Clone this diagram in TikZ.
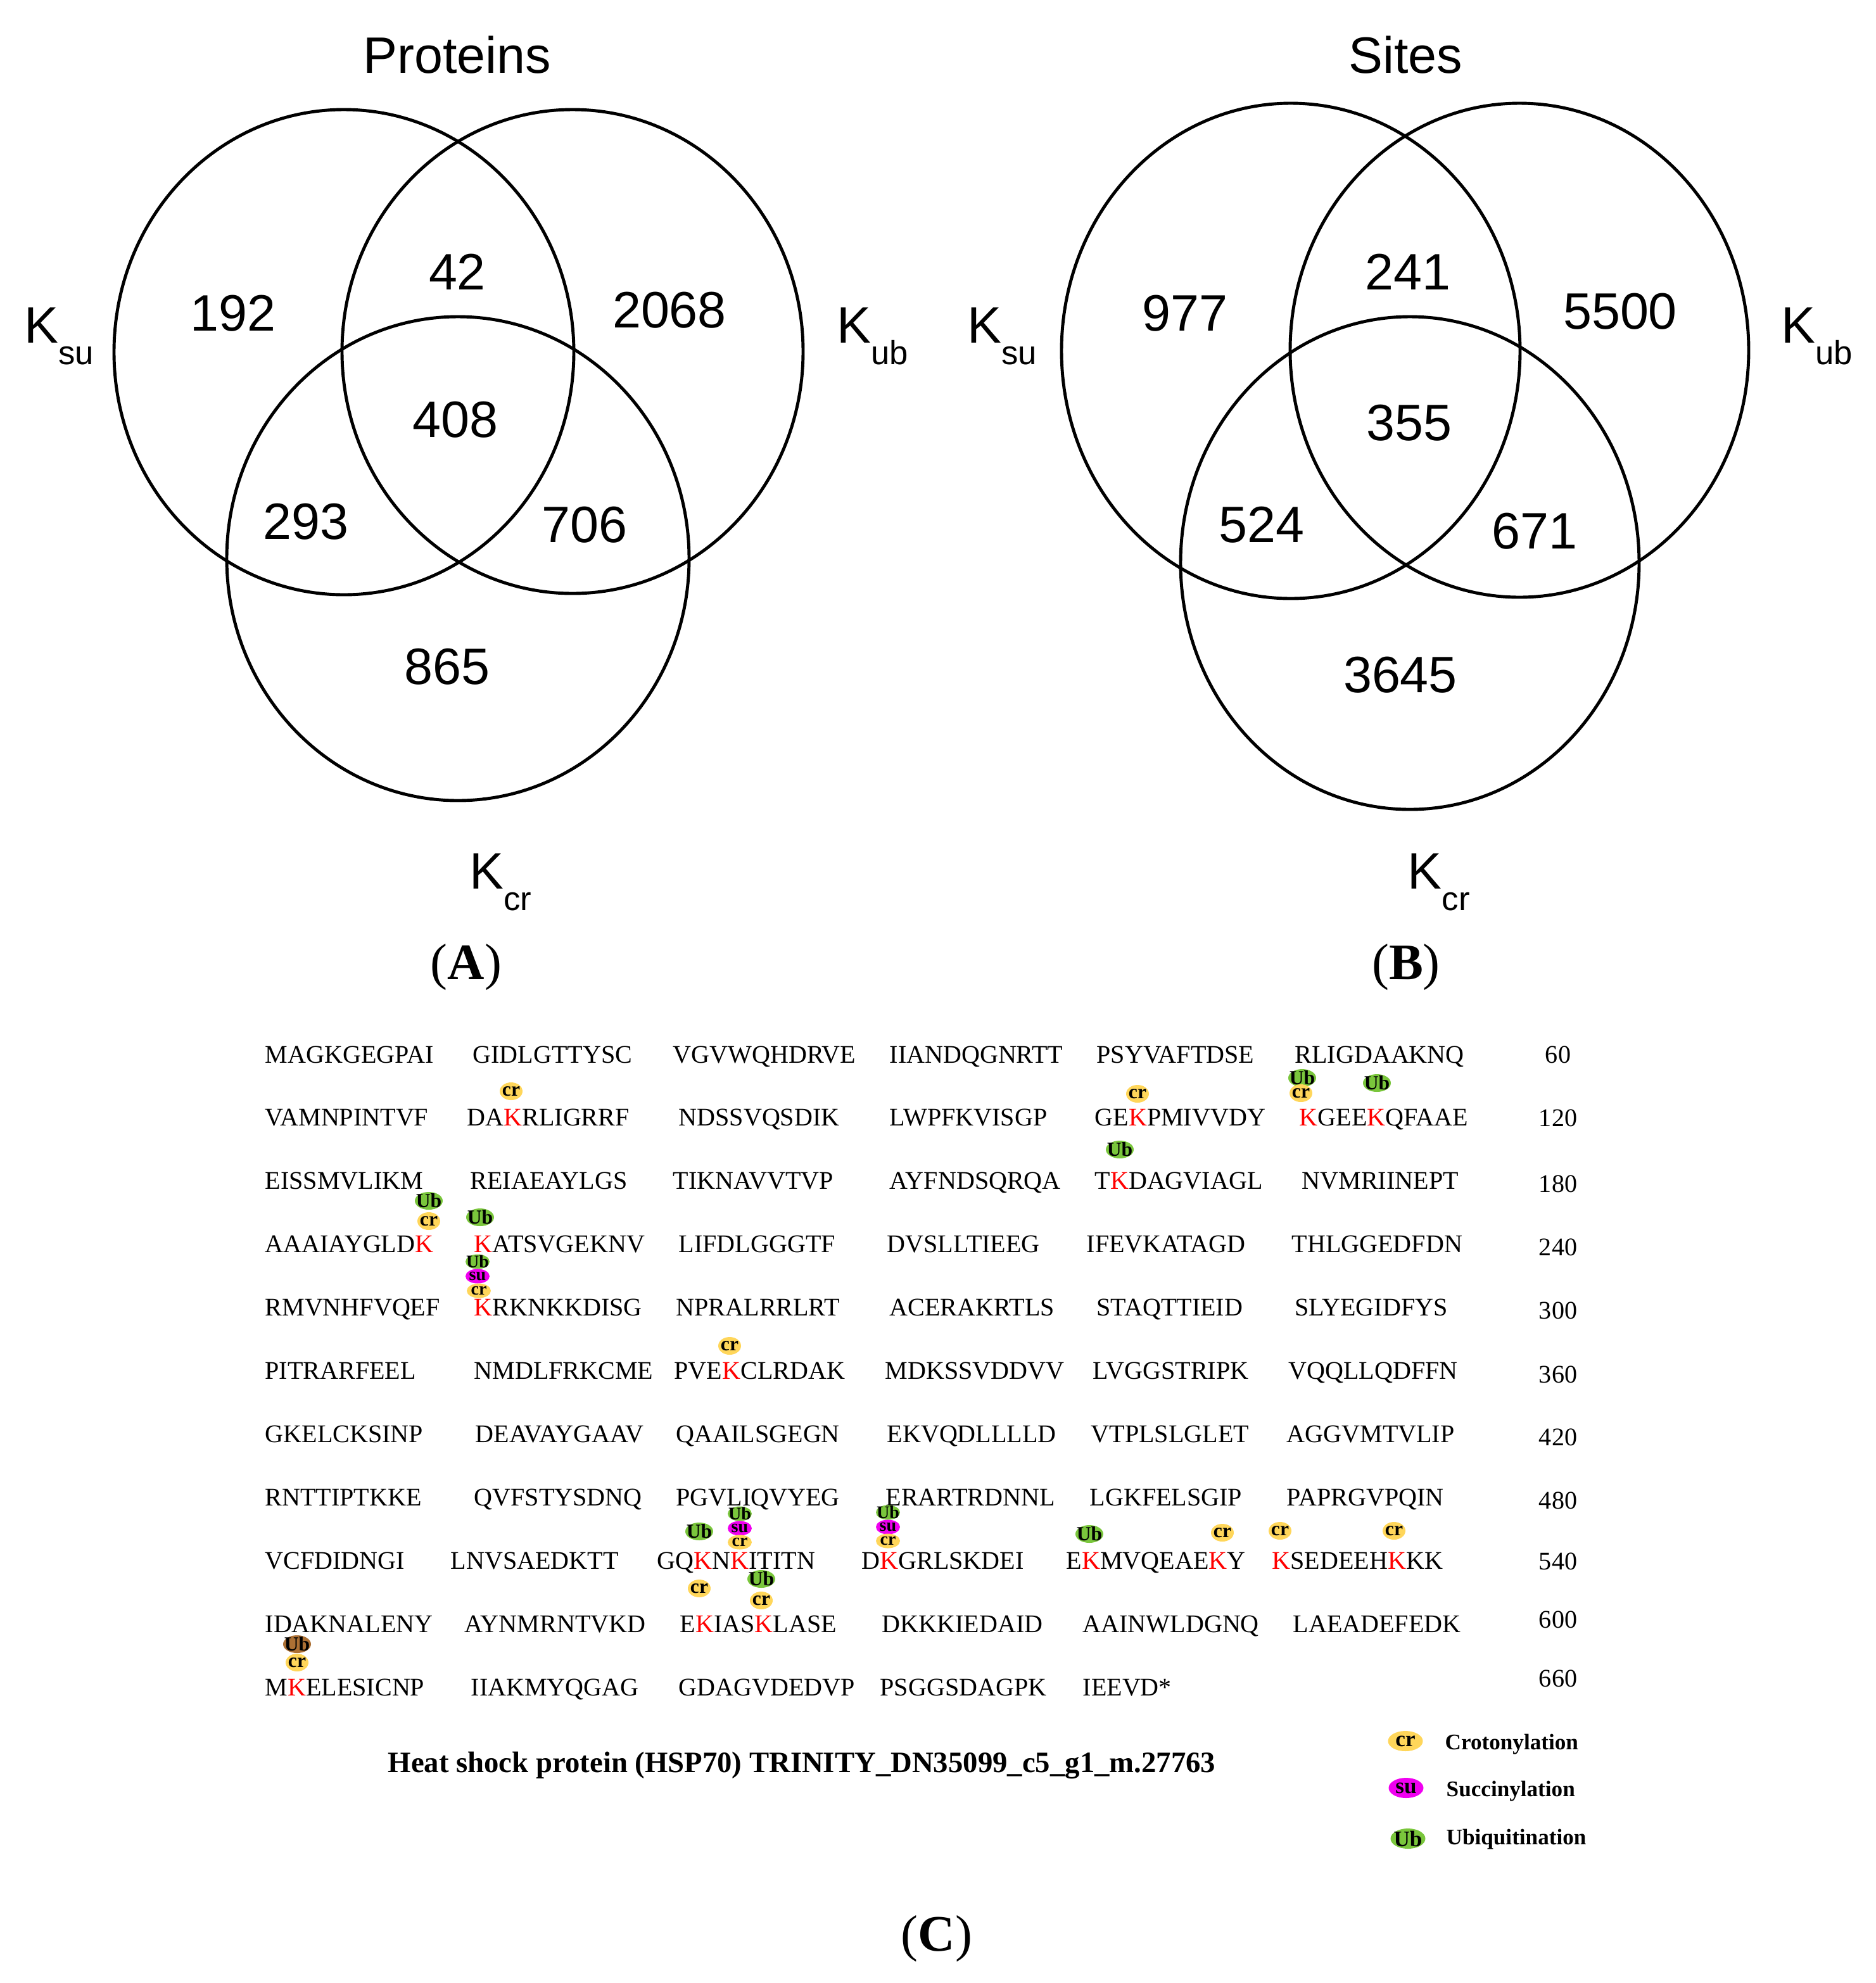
\documentclass[tikz,border=0pt]{standalone}
\usepackage{fontspec}
\setmainfont{Liberation Serif}
\newfontfamily\vennfont{Liberation Sans}
\usetikzlibrary{shapes.geometric}
\definecolor{crcol}{RGB}{255,214,90}
\definecolor{sucol}{RGB}{240,0,240}
\definecolor{ubcol}{RGB}{122,198,60}
\definecolor{ubbrown}{RGB}{172,112,52}
\definecolor{kred}{RGB}{255,0,0}
\newcommand{\rk}{\textcolor{kred}{K}}
\newcommand{\ksub}[1]{K\raisebox{-0.8ex}{\fontsize{15}{15}\selectfont #1}}
\newcommand{\plab}[1]{(\textbf{#1})}

\begin{document}
\begin{tikzpicture}[
    venn/.style={line width=1.4pt},
    num/.style={font=\vennfont\fontsize{23}{23}\selectfont, inner sep=0pt},
    klab/.style={font=\vennfont\fontsize{23}{23}\selectfont, inner sep=0pt, anchor=base west},
    panel/.style={font=\fontsize{23}{23}\selectfont, inner sep=0pt, anchor=base},
    seq/.style={font=\fontsize{11.4}{11.4}\selectfont, inner sep=0pt, anchor=base west},
    posnum/.style={font=\fontsize{11.4}{11.4}\selectfont, inner sep=0pt, anchor=base},
    tag/.style={ellipse, inner sep=-6pt, minimum height=2.8mm, font=\fontsize{9}{9}\selectfont\bfseries},
    crtag/.style={tag, fill=crcol, minimum width=3.6mm},
    sutag/.style={tag, fill=sucol, minimum width=3.8mm},
    ubtag/.style={tag, fill=ubcol, minimum width=4.4mm},
    stacked/.style={minimum height=2.3mm, minimum width=3.8mm, font=\fontsize{8}{8}\selectfont\bfseries},
    legtag/.style={minimum width=5.5mm, minimum height=3.2mm, font=\fontsize{10}{10}\selectfont\bfseries},
    legtxt/.style={font=\fontsize{10}{10}\selectfont\bfseries, inner sep=0pt, anchor=base west}]

    \useasboundingbox (0,0) rectangle (29.62,-31.31);

    \draw[venn] (5.43,-5.56) ellipse [x radius=3.63, y radius=3.83];
    \draw[venn] (9.04,-5.55) ellipse [x radius=3.64, y radius=3.82];
    \draw[venn] (7.23,-8.82) ellipse [x radius=3.65, y radius=3.82];
    \node[num] (ptitle) at (7.22,-0.87) {Proteins};
    \node[num] (p192) at (3.68,-4.95) {192};
    \node[num] (p42) at (7.22,-4.29) {42};
    \node[num] (p2068) at (10.57,-4.90) {2068};
    \node[num] (p408) at (7.19,-6.63) {408};
    \node[num] (p293) at (4.83,-8.24) {293};
    \node[num] (p706) at (9.23,-8.29) {706};
    \node[num] (p865) at (7.06,-10.53) {865};
    \node[klab] (psu) at (0.38,-5.41) {\ksub{su}};
    \node[klab] (pub) at (13.21,-5.41) {\ksub{ub}};
    \node[klab] (pcr) at (7.41,-14.03) {\ksub{cr}};
    \node[panel] (pa) at (7.36,-15.46) {\plab{A}};

    \draw[venn] (20.38,-5.54) ellipse [x radius=3.62, y radius=3.91];
    \draw[venn] (23.99,-5.53) ellipse [x radius=3.62, y radius=3.90];
    \draw[venn] (22.26,-8.89) ellipse [x radius=3.62, y radius=3.89];
    \node[num] (stitle) at (22.19,-0.87) {Sites};
    \node[num] (s977) at (18.71,-4.95) {977};
    \node[num] (s241) at (22.23,-4.29) {241};
    \node[num] (s5500) at (25.58,-4.92) {5500};
    \node[num] (s355) at (22.25,-6.68) {355};
    \node[num] (s524) at (19.92,-8.29) {524};
    \node[num] (s671) at (24.23,-8.39) {671};
    \node[num] (s3645) at (22.11,-10.66) {3645};
    \node[klab] (ssu) at (15.27,-5.41) {\ksub{su}};
    \node[klab] (sub) at (28.12,-5.41) {\ksub{ub}};
    \node[klab] (scr) at (22.22,-14.03) {\ksub{cr}};
    \node[panel] (pb) at (22.20,-15.46) {\plab{B}};

    \foreach \x/\s [count=\c] in {4.18/MAGKGEGPAI, 7.46/GIDLGTTYSC, 10.62/VGVWQHDRVE, 14.04/IIANDQGNRTT, 17.31/PSYVAFTDSE, 20.44/RLIGDAAKNQ}
        \node[seq] (ra\c) at (\x,-16.78) {\s};
    \foreach \x/\s [count=\c] in {4.18/VAMNPINTVF, 7.37/DA\rk RLIGRRF, 10.71/NDSSVQSDIK, 14.04/LWPFKVISGP, 17.28/GE\rk PMIVVDY, 20.51/\rk GEE\rk QFAAE}
        \node[seq] (rb\c) at (\x,-17.77) {\s};
    \foreach \x/\s [count=\c] in {4.18/EISSMVLIKM, 7.42/REIAEAYLGS, 10.62/TIKNAVVTVP, 14.04/AYFNDSQRQA, 17.28/T\rk DAGVIAGL, 20.55/NVMRIINEPT}
        \node[seq] (rc\c) at (\x,-18.77) {\s};
    \foreach \x/\s [count=\c] in {4.18/AAAIAYGLD\rk, 7.48/\rk ATSVGEKNV, 10.71/LIFDLGGGTF, 14.00/DVSLLTIEEG, 17.15/IFEVKATAGD, 20.39/THLGGEDFDN}
        \node[seq] (rd\c) at (\x,-19.77) {\s};
    \foreach \x/\s [count=\c] in {4.18/RMVNHFVQEF, 7.48/\rk RKNKKDISG, 10.67/NPRALRRLRT, 14.04/ACERAKRTLS, 17.31/STAQTTIEID, 20.44/SLYEGIDFYS}
        \node[seq] (re\c) at (\x,-20.77) {\s};
    \foreach \x/\s [count=\c] in {4.18/PITRARFEEL, 7.48/NMDLFRKCME, 10.64/PVE\rk CLRDAK, 13.97/MDKSSVDDVV, 17.25/LVGGSTRIPK, 20.34/VQQLLQDFFN}
        \node[seq] (rf\c) at (\x,-21.77) {\s};
    \foreach \x/\s [count=\c] in {4.18/GKELCKSINP, 7.50/DEAVAYGAAV, 10.67/QAAILSGEGN, 14.00/EKVQDLLLLD, 17.22/VTPLSLGLET, 20.31/AGGVMTVLIP}
        \node[seq] (rg\c) at (\x,-22.77) {\s};
    \foreach \x/\s [count=\c] in {4.18/RNTTIPTKKE, 7.48/QVFSTYSDNQ, 10.67/PGVLIQVYEG, 13.98/ERARTRDNNL, 17.20/LGKFELSGIP, 20.31/PAPRGVPQIN}
        \node[seq] (rh\c) at (\x,-23.77) {\s};
    \foreach \x/\s [count=\c] in {4.18/VCFDIDNGI, 7.11/LNVSAEDKTT, 10.37/GQ\rk N\rk ITITN, 13.60/D\rk GRLSKDEI, 16.83/E\rk MVQEAE\rk Y, 20.08/\rk SEDEEH\rk KK}
        \node[seq] (ri\c) at (\x,-24.77) {\s};
    \foreach \x/\s [count=\c] in {4.18/IDAKNALENY, 7.33/AYNMRNTVKD, 10.73/E\rk IAS\rk LASE, 13.92/DKKKIEDAID, 17.09/AAINWLDGNQ, 20.41/LAEADEFEDK}
        \node[seq] (rj\c) at (\x,-25.77) {\s};
    \foreach \x/\s [count=\c] in {4.18/M\rk ELESICNP, 7.43/IIAKMYQGAG, 10.71/GDAGVDEDVP, 13.89/PSGGSDAGPK, 17.09/IEEVD*}
        \node[seq] (rk\c) at (\x,-26.77) {\s};
    \foreach \y/\n in {16.78/60, 17.78/120, 18.82/180, 19.82/240, 20.82/300, 21.83/360, 22.82/420, 23.82/480, 24.78/540, 25.70/600, 26.63/660}
        \node[posnum] (n\n) at (24.60,-\y) {\n};

    \node[crtag] (b2a) at (8.07,-17.23) {cr};
    \node[crtag] (b2b) at (17.96,-17.27) {cr};
    \node[ubtag] (b2c) at (20.56,-17.02) {Ub};
    \node[crtag] (b2d) at (20.54,-17.26) {cr};
    \node[ubtag] (b2e) at (21.74,-17.10) {Ub};
    \node[ubtag] (b3a) at (17.68,-18.15) {Ub};
    \node[ubtag] (b4a) at (6.77,-18.96) {Ub};
    \node[crtag] (b4b) at (6.77,-19.28) {cr};
    \node[ubtag] (b4c) at (7.58,-19.22) {Ub};
    \node[ubtag, stacked] (b5a) at (7.54,-19.92) {Ub};
    \node[sutag, stacked] (b5b) at (7.54,-20.15) {su};
    \node[crtag, stacked] (b5c) at (7.56,-20.38) {cr};
    \node[crtag] (b6a) at (11.52,-21.25) {cr};
    \node[ubtag] (b9a) at (11.04,-24.18) {Ub};
    \node[ubtag, stacked] (b9b) at (11.68,-23.90) {Ub};
    \node[sutag, stacked] (b9c) at (11.68,-24.13) {su};
    \node[crtag, stacked] (b9d) at (11.68,-24.35) {cr};
    \node[ubtag, stacked] (b9e) at (14.02,-23.88) {Ub};
    \node[sutag, stacked] (b9f) at (14.02,-24.11) {su};
    \node[crtag, stacked] (b9g) at (14.02,-24.33) {cr};
    \node[ubtag] (b9h) at (17.20,-24.22) {Ub};
    \node[crtag] (b9i) at (19.30,-24.20) {cr};
    \node[crtag] (b9j) at (20.21,-24.17) {cr};
    \node[crtag] (b9k) at (22.01,-24.17) {cr};
    \node[crtag] (b10a) at (11.04,-25.08) {cr};
    \node[ubtag] (b10b) at (12.02,-24.93) {Ub};
    \node[crtag] (b10c) at (12.02,-25.27) {cr};
    \node[ubtag, fill=ubbrown] (b11a) at (4.69,-25.96) {Ub};
    \node[crtag] (b11b) at (4.69,-26.25) {cr};

    \node[font=\fontsize{13.3}{13.3}\selectfont\bfseries, inner sep=0pt, anchor=base west] (title) at (6.12,-27.98) {Heat shock protein (HSP70) TRINITY\_DN35099\_c5\_g1\_m.27763};

    \node[crtag, legtag] (lgcr) at (22.19,-27.49) {cr};
    \node[sutag, legtag] (lgsu) at (22.20,-28.23) {su};
    \node[ubtag, legtag] (lgub) at (22.23,-29.03) {Ub};
    \node[legtxt] (tcr) at (22.81,-27.62) {Crotonylation};
    \node[legtxt] (tsu) at (22.83,-28.36) {Succinylation};
    \node[legtxt] (tub) at (22.83,-29.12) {Ubiquitination};

    \node[panel] (pc) at (14.79,-30.80) {\plab{C}};
\end{tikzpicture}
\end{document}
